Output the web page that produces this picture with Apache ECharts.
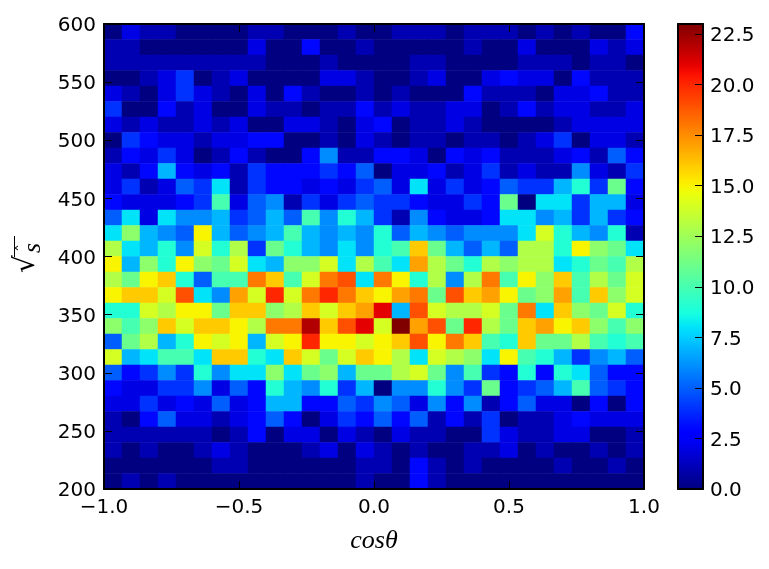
<!DOCTYPE html>
<html>
<head>
<meta charset="utf-8">
<style>
  html, body { margin: 0; padding: 0; background: #fff; }
  #chart { width: 769px; height: 569px; }
</style>
<script src="https://cdn.jsdelivr.net/npm/echarts@6/dist/echarts.min.js"></script>
</head>
<body>
<div id="chart"></div>
<script>
// bin centres, cos(theta) left to right
const cosBins = ["-0.97","-0.90","-0.83","-0.77","-0.70","-0.63","-0.57","-0.50","-0.43","-0.37",
  "-0.30","-0.23","-0.17","-0.10","-0.03","0.03","0.10","0.17","0.23","0.30",
  "0.37","0.43","0.50","0.57","0.63","0.70","0.77","0.83","0.90","0.97"];
// bin centres, sqrt(s) top to bottom
const sBins = ["593","580","567","553","540","527","513","500","487","473",
  "460","447","433","420","407","393","380","367","353","340",
  "327","313","300","287","273","260","247","233","220","207"];
// counts, one row per sBins entry
const counts = [
  [0,2,1,1,0,0,0,0,1,1,0,0,0,1,0,0,1,1,1,0,1,1,1,0,1,0,1,0,0,3],
  [1,1,0,0,0,0,0,0,2,0,0,3,0,0,1,0,0,0,0,0,1,0,0,2,0,0,0,2,1,2],
  [1,1,1,1,1,1,1,1,1,0,0,0,1,0,0,0,0,1,1,0,0,0,0,1,1,1,0,1,1,0],
  [0,0,1,2,4,0,1,2,0,0,0,0,2,2,1,0,0,1,2,0,0,2,3,2,2,0,3,1,1,1],
  [2,1,0,2,4,2,1,0,2,0,3,1,0,0,1,0,1,0,0,0,3,1,1,1,0,2,2,3,1,1],
  [4,0,0,3,1,2,0,0,2,1,1,0,1,1,3,1,2,1,1,2,2,0,1,3,1,2,2,1,1,2],
  [2,1,2,1,1,2,1,2,0,0,2,2,1,0,2,3,0,1,1,2,1,0,0,0,0,1,2,2,2,2],
  [0,4,3,2,2,1,2,2,3,3,0,0,1,0,2,1,0,1,1,0,1,1,0,1,2,4,0,2,2,1],
  [1,3,2,4,2,0,1,3,1,0,0,3,6,1,1,3,3,2,0,3,2,3,1,1,1,2,3,1,5,3],
  [2,1,3,7,3,2,3,1,4,3,3,3,4,3,5,0,2,2,3,1,2,4,1,2,1,1,6,2,1,4],
  [2,4,1,2,5,4,8,1,4,3,3,2,3,2,4,5,2,8,2,4,2,3,5,4,4,7,9,4,11,3],
  [3,2,2,2,3,4,10,2,5,6,1,4,2,4,5,4,4,3,2,2,4,3,11,0,8,8,4,7,7,2],
  [5,8,2,8,6,6,7,4,5,7,5,10,6,9,7,4,1,6,3,2,2,3,8,8,6,7,4,7,4,3],
  [8,12,7,6,5,15,7,5,6,7,10,7,6,7,6,9,5,7,6,5,6,6,6,8,14,9,7,6,9,1],
  [13,8,7,9,6,14,9,13,4,11,9,7,6,8,6,9,10,16,11,7,5,7,5,13,13,9,15,12,11,8],
  [15,7,12,9,15,12,11,14,8,7,12,12,14,8,13,10,8,17,13,11,9,13,12,13,13,8,9,11,10,13],
  [13,11,15,16,9,5,10,10,18,16,10,14,18,19,8,18,15,9,13,6,13,18,10,15,12,16,10,13,11,14],
  [15,16,16,14,19,8,6,17,14,20,14,18,20,18,16,15,17,18,11,19,16,17,15,11,12,17,10,16,12,14],
  [9,9,14,13,15,15,11,16,16,12,13,16,14,16,17,21,7,19,14,13,13,14,11,18,8,16,12,11,14,9],
  [12,10,12,16,14,16,16,15,13,18,18,22,16,19,21,14,23,17,19,11,20,13,11,16,17,15,16,12,10,12],
  [5,11,13,7,9,15,14,15,7,14,15,20,15,15,14,15,16,19,15,18,16,10,9,16,11,11,13,10,9,10],
  [14,7,8,10,10,8,16,16,9,8,16,14,11,14,16,15,13,8,14,13,12,8,15,10,9,7,4,6,7,5],
  [5,3,4,6,4,9,6,8,8,12,8,11,12,7,11,11,13,14,11,6,10,4,3,9,3,9,8,5,3,3],
  [3,2,2,4,4,6,2,5,3,9,7,6,9,4,7,0,6,6,9,6,4,11,3,4,5,7,10,5,4,3],
  [2,2,4,2,3,2,5,2,3,7,7,3,3,5,4,6,5,2,6,3,6,1,3,5,2,2,0,3,0,3],
  [1,0,3,5,2,2,1,2,3,5,3,0,2,4,3,5,3,5,1,3,1,4,0,1,1,2,3,2,2,2],
  [1,1,1,1,1,1,0,1,3,0,2,2,0,2,1,0,2,1,1,0,0,4,2,1,1,2,2,0,0,1],
  [1,0,1,0,0,1,2,1,0,0,0,1,2,0,2,1,0,1,0,0,1,1,2,0,1,0,0,1,0,1],
  [0,0,0,0,0,0,1,1,0,0,0,0,0,0,1,1,0,3,1,0,1,0,0,0,0,1,0,0,1,0],
  [0,1,0,1,0,0,0,0,0,0,0,0,0,0,1,0,0,3,1,0,0,0,0,0,0,0,0,0,0,0]
];
const countMax = 23;

// matplotlib jet lookup
function seg(table, t) {
  for (let i = 1; i < table.length; i++) {
    if (t <= table[i][0]) {
      const a = table[i - 1], b = table[i];
      return a[1] + (b[1] - a[1]) * (t - a[0]) / (b[0] - a[0]);
    }
  }
  return table[table.length - 1][1];
}
const jetR = [[0,0],[0.35,0],[0.66,1],[0.89,1],[1,0.5]];
const jetG = [[0,0],[0.125,0],[0.375,1],[0.64,1],[0.91,0],[1,0]];
const jetB = [[0,0.5],[0.11,1],[0.34,1],[0.65,0],[1,0]];
const jetColors = [];
for (let i = 0; i <= 92; i++) {
  const t = i / 92;
  const c = [jetR, jetG, jetB].map(s => Math.round(seg(s, t) * 255));
  jetColors.push("rgb(" + c.join(",") + ")");
}

const heatData = [];
counts.forEach((row, r) => row.forEach((v, c) => heatData.push([c, r, v])));

const tickFont = { color: "#000", fontFamily: "DejaVu Sans", fontSize: 20 };
const spine = { show: true, onZero: false, lineStyle: { color: "#000", width: 2 } };
const tick = { show: true, inside: true, length: 8, lineStyle: { color: "#000", width: 1 } };
const minus = v => v.replace("-", "\u2212");
// nudges the vertical axis labels about 2px below their tick
const labelNudge = { verticalAlign: "top", lineHeight: 4 };

const chart = echarts.init(document.getElementById("chart"), null, { renderer: "canvas" });
chart.setOption({
  animation: false,
  backgroundColor: "#fff",
  grid: [
    { left: 104, top: 24, width: 540, height: 465 },
    { left: 678, top: 24, width: 25, height: 465 }
  ],
  xAxis: [
    { gridIndex: 0, type: "category", data: cosBins, show: false },
    { gridIndex: 0, type: "value", position: "bottom", min: -1, max: 1, interval: 0.5, z: 5,
      axisLine: spine, axisTick: tick, splitLine: { show: false },
      axisLabel: { ...tickFont, margin: 9, formatter: v => minus(v.toFixed(1)) } },
    { gridIndex: 0, type: "value", position: "top", min: -1, max: 1, interval: 0.5, z: 5,
      axisLine: spine, axisTick: tick, splitLine: { show: false }, axisLabel: { show: false } },
    { gridIndex: 1, type: "value", position: "bottom", min: 0, max: 1, z: 5,
      axisLine: spine, axisTick: { show: false }, splitLine: { show: false }, axisLabel: { show: false } },
    { gridIndex: 1, type: "value", position: "top", min: 0, max: 1, z: 5,
      axisLine: spine, axisTick: { show: false }, splitLine: { show: false }, axisLabel: { show: false } }
  ],
  yAxis: [
    { gridIndex: 0, type: "category", data: sBins, inverse: true, show: false },
    { gridIndex: 0, type: "value", position: "left", min: 200, max: 600, interval: 50, z: 5,
      axisLine: spine, axisTick: tick, splitLine: { show: false },
      axisLabel: { ...tickFont, ...labelNudge, margin: 8 } },
    { gridIndex: 0, type: "value", position: "right", min: 200, max: 600, interval: 50, z: 5,
      axisLine: spine, axisTick: tick, splitLine: { show: false }, axisLabel: { show: false } },
    { gridIndex: 1, type: "value", position: "left", min: 0, max: 1, z: 5,
      axisLine: spine, axisTick: { show: false }, splitLine: { show: false }, axisLabel: { show: false } },
    { gridIndex: 1, type: "value", position: "right", min: 0, max: countMax, interval: 2.5, z: 5,
      axisLine: spine, axisTick: tick, splitLine: { show: false },
      axisLabel: { ...tickFont, ...labelNudge, margin: 7, showMaxLabel: false, formatter: v => v.toFixed(1) } }
  ],
  visualMap: {
    type: "continuous",
    seriesIndex: 0,
    dimension: 2,
    min: 0,
    max: countMax,
    left: 678,
    top: 24,
    padding: 0,
    itemWidth: 25,
    itemHeight: 465,
    calculable: false,
    hoverLink: false,
    showLabel: false,
    text: null,
    inRange: { color: jetColors }
  },
  series: [{
    type: "heatmap",
    xAxisIndex: 0,
    yAxisIndex: 0,
    data: heatData,
    silent: true,
    itemStyle: { borderWidth: 0 },
    progressive: 0
  }],
  graphic: [
    { type: "text", x: 374, y: 541, z: 10, style: { text: "cos\u03b8", fill: "#000",
      font: "italic 26px 'Liberation Serif'", textAlign: "center", textVerticalAlign: "middle" } },
    // rotated sqrt(s-hat) label: radical, its bar, then the s with its hat
    { type: "text", x: 27, y: 264, rotation: Math.PI / 2, z: 10, style: { text: "\u221a", fill: "#000",
      font: "28px 'DejaVu Sans'", textAlign: "center", textVerticalAlign: "middle" } },
    { type: "line", z: 10, shape: { x1: 14.5, y1: 257, x2: 14.5, y2: 236 }, style: { stroke: "#000", lineWidth: 1 } },
    { type: "text", x: 33, y: 248, rotation: Math.PI / 2, z: 10, style: { text: "s", fill: "#000",
      font: "italic 26px 'Liberation Serif'", textAlign: "center", textVerticalAlign: "middle" } },
    { type: "text", x: 24, y: 248, rotation: Math.PI / 2, z: 10, style: { text: "\u02c6", fill: "#000",
      font: "16px 'DejaVu Sans'", textAlign: "center", textVerticalAlign: "middle" } }
  ]
});
</script>
</body>
</html>
